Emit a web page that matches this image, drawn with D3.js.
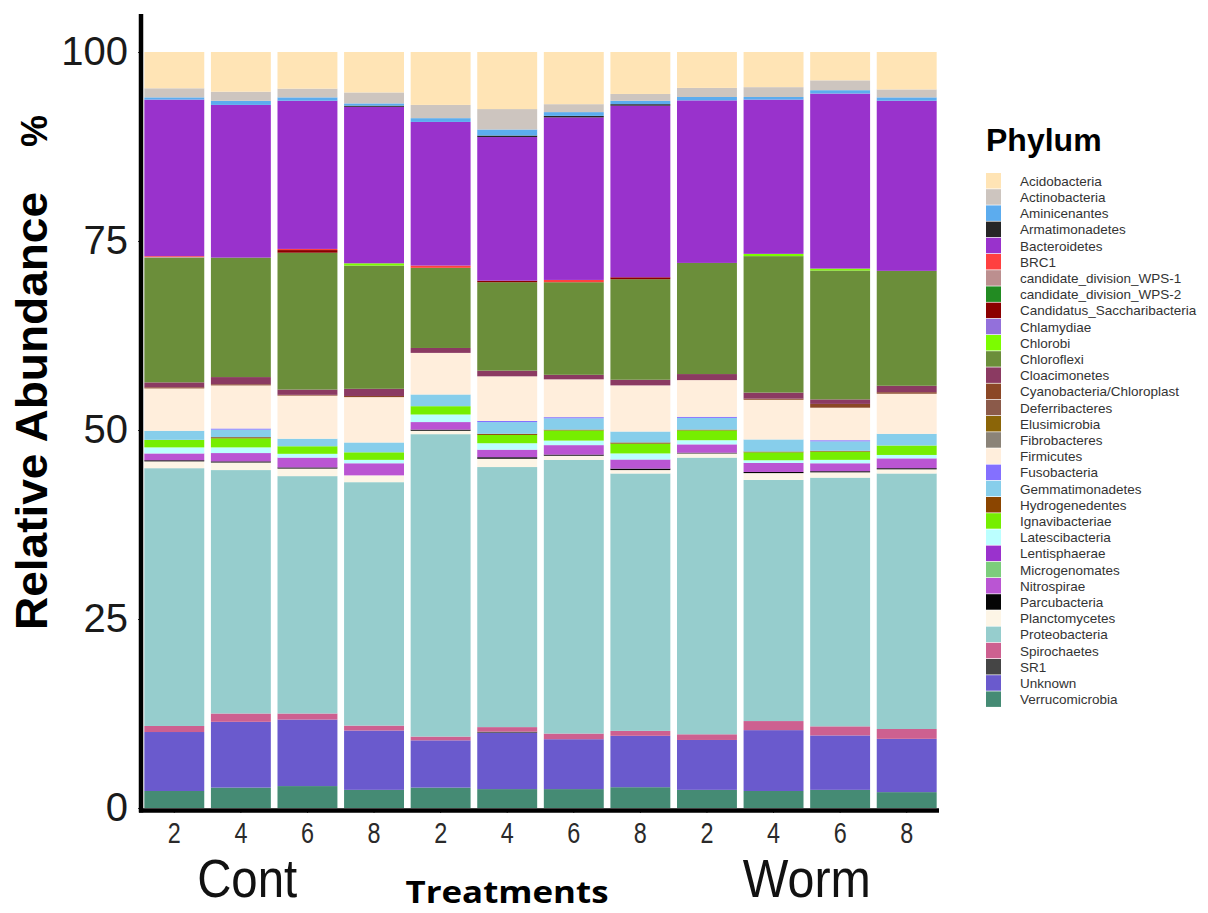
<!DOCTYPE html>
<html>
<head>
<meta charset="utf-8">
<script src="https://cdn.jsdelivr.net/npm/d3@7/dist/d3.min.js"></script>
<style>
  html, body { margin: 0; padding: 0; background: #ffffff; }
  svg { display: block; font-family: "Liberation Sans", Arial, sans-serif; }
</style>
</head>
<body>
<script>
// Samples along the x axis (three treatment blocks, sampled on days 2, 4, 6, 8)
const sampleIds = ["Cont_2", "Cont_4", "Cont_6", "Cont_8",
                   "Trt_2", "Trt_4", "Trt_6", "Trt_8",
                   "Worm_2", "Worm_4", "Worm_6", "Worm_8"];
const dayLabels = ["2", "4", "6", "8", "2", "4", "6", "8", "2", "4", "6", "8"];
const groupLabels = [
  { text: "Cont", first: "Cont_2", last: "Cont_8", shift: -27, width: 100 },
  { text: "Worm", first: "Worm_2", last: "Worm_8", shift: 0, width: 128 }
];
const yTicks = [0, 25, 50, 75, 100];

// Phyla in legend order (top of each stacked bar first)
const phyla = ["Acidobacteria", "Actinobacteria", "Aminicenantes", "Armatimonadetes",
  "Bacteroidetes", "BRC1", "candidate_division_WPS-1", "candidate_division_WPS-2",
  "Candidatus_Saccharibacteria", "Chlamydiae", "Chlorobi", "Chloroflexi", "Cloacimonetes",
  "Cyanobacteria/Chloroplast", "Deferribacteres", "Elusimicrobia", "Fibrobacteres",
  "Firmicutes", "Fusobacteria", "Gemmatimonadetes", "Hydrogenedentes", "Ignavibacteriae",
  "Latescibacteria", "Lentisphaerae", "Microgenomates", "Nitrospirae", "Parcubacteria",
  "Planctomycetes", "Proteobacteria", "Spirochaetes", "SR1", "Unknown", "Verrucomicrobia"];

const phylumColors = ["#FFE4B5", "#CDC5BF", "#5CACEE", "#262626",
  "#9932CC", "#FF4040", "#BC8F8F", "#228B22",
  "#8B0000", "#9370DB", "#7CFC00", "#6B8E3A", "#8B3A62",
  "#8B4726", "#8B5A4A", "#8B6508", "#8B8378",
  "#FFEEDC", "#8470FF", "#87CEEB", "#8B4500", "#76EE00",
  "#BBFFFF", "#9A32CD", "#7CCD7C", "#BA55D3", "#050505",
  "#FDF5E6", "#96CDCD", "#CD6090", "#454545", "#6A5ACD", "#458B74"];

// Relative abundance (%) per sample, one array per phylum
const acidobacteria      = [4.8, 5.25, 4.85, 5.35, 7.0, 7.55, 6.9, 5.55, 4.75, 4.65, 3.75, 4.95];
const actinobacteria     = [1.2, 1.2, 1.15, 1.45, 1.75, 2.7, 1.05, 0.9, 1.2, 1.3, 1.3, 1.05];
const aminicenantes      = [0.3, 0.55, 0.45, 0.3, 0.5, 0.8, 0.5, 0.45, 0.45, 0.35, 0.45, 0.45];
const armatimonadetes    = [0, 0, 0, 0.15, 0, 0.2, 0.2, 0.2, 0, 0, 0, 0];
const bacteroidetes      = [20.7, 20.2, 19.6, 20.7, 19.0, 19.0, 21.5, 22.7, 21.5, 20.4, 23.15, 22.5];
const brc1               = [0.1, 0, 0.15, 0, 0.3, 0, 0.3, 0, 0, 0, 0, 0];
const wps1               = [0.1, 0, 0, 0, 0, 0, 0, 0, 0, 0, 0, 0];
const wps2               = [0, 0, 0, 0, 0, 0, 0, 0, 0, 0, 0, 0];
const saccharibacteria   = [0, 0, 0.35, 0, 0, 0.2, 0, 0.25, 0, 0, 0, 0];
const chlamydiae         = [0, 0, 0, 0, 0, 0, 0, 0, 0, 0, 0, 0];
const chlorobi           = [0, 0, 0, 0.3, 0, 0, 0, 0, 0, 0.3, 0.25, 0];
const chloroflexi        = [16.5, 15.8, 18.1, 16.3, 10.6, 11.7, 12.25, 13.3, 14.7, 18.05, 17.05, 15.2];
const cloacimonetes      = [0.65, 0.95, 0.7, 0.95, 0.65, 0.75, 0.6, 0.75, 0.8, 0.8, 0.6, 0.85];
const cyanobacteria      = [0.15, 0.15, 0.1, 0.15, 0, 0, 0, 0, 0, 0.15, 0.5, 0.2];
const deferribacteres    = [0, 0, 0, 0, 0, 0, 0, 0, 0, 0, 0, 0];
const elusimicrobia      = [0, 0, 0, 0, 0, 0, 0, 0, 0, 0, 0, 0];
const fibrobacteres      = [0, 0, 0, 0, 0, 0, 0, 0, 0, 0, 0, 0];
const firmicutes         = [5.6, 5.7, 5.7, 6.0, 5.5, 5.9, 5.0, 6.1, 4.85, 5.25, 4.3, 5.3];
const fusobacteria       = [0, 0.15, 0, 0, 0, 0.15, 0.15, 0, 0.15, 0, 0.15, 0];
const gemmatimonadetes   = [1.2, 1.0, 1.0, 1.3, 1.55, 1.55, 1.5, 1.45, 1.55, 1.6, 1.25, 1.55];
const hydrogenedentes    = [0, 0.15, 0, 0, 0, 0.15, 0.1, 0.15, 0.1, 0.1, 0.1, 0];
const ignavibacteriae    = [1.0, 1.2, 1.0, 1.0, 1.1, 1.1, 1.35, 1.3, 1.3, 1.05, 1.1, 1.25];
const latescibacteria    = [0.8, 0.75, 0.5, 0.45, 1.0, 0.85, 0.6, 0.8, 0.55, 0.35, 0.45, 0.45];
const lentisphaerae      = [0, 0, 0, 0, 0, 0, 0, 0, 0, 0, 0, 0];
const microgenomates     = [0, 0, 0, 0, 0, 0, 0, 0, 0, 0, 0, 0];
const nitrospirae        = [0.9, 1.1, 1.3, 1.6, 1.0, 1.0, 1.25, 1.2, 1.1, 1.2, 1.05, 1.3];
const parcubacteria      = [0.15, 0.15, 0.15, 0, 0.15, 0.2, 0.15, 0.2, 0.1, 0.15, 0.15, 0.15];
const planctomycetes     = [0.9, 1.0, 1.0, 0.9, 0.45, 1.1, 0.55, 0.45, 0.55, 0.9, 0.7, 0.55];
const proteobacteria     = [34.1, 32.2, 31.4, 32.2, 40.0, 34.4, 36.2, 34.05, 36.6, 31.9, 32.9, 33.8];
const spirochaetes       = [0.8, 1.1, 0.8, 0.65, 0.5, 0.6, 0.75, 0.65, 0.75, 1.2, 1.2, 1.3];
const sr1                = [0, 0, 0, 0, 0, 0.15, 0, 0, 0, 0, 0, 0];
const unknown            = [7.8, 8.7, 8.8, 7.85, 6.25, 7.45, 6.6, 6.8, 6.6, 8.05, 7.2, 7.05];
const verrucomicrobia    = [2.25, 2.7, 2.9, 2.4, 2.7, 2.5, 2.5, 2.75, 2.4, 2.25, 2.4, 2.1];

const phylumValues = [acidobacteria, actinobacteria, aminicenantes, armatimonadetes,
  bacteroidetes, brc1, wps1, wps2, saccharibacteria, chlamydiae, chlorobi, chloroflexi,
  cloacimonetes, cyanobacteria, deferribacteres, elusimicrobia, fibrobacteres, firmicutes,
  fusobacteria, gemmatimonadetes, hydrogenedentes, ignavibacteriae, latescibacteria,
  lentisphaerae, microgenomates, nitrospirae, parcubacteria, planctomycetes, proteobacteria,
  spirochaetes, sr1, unknown, verrucomicrobia];

// ---- layout ----
const W = 1208, H = 913;
const svg = d3.select("body").append("svg").attr("width", W).attr("height", H);

const y = d3.scaleLinear().domain([0, 100]).range([808, 52]);
const x = d3.scaleBand().domain(sampleIds).range([141, 940]).paddingInner(0.1).paddingOuter(0.05);
const color = d3.scaleOrdinal().domain(phyla).range(phylumColors);

// one row per sample, one column per phylum
const rows = sampleIds.map((id, i) => {
  const r = { id };
  phyla.forEach((p, j) => { r[p] = phylumValues[j][i]; });
  return r;
});

// stack from the bottom: last legend entry sits at the base of each bar
const stacked = d3.stack().keys(phyla.slice().reverse())(rows);

svg.append("g").selectAll("g")
  .data(stacked)
  .join("g")
  .attr("fill", d => color(d.key))
  .selectAll("rect")
  .data(d => d.filter(s => s[1] - s[0] > 0))
  .join("rect")
  .attr("x", d => x(d.data.id))
  .attr("y", d => y(d[1]))
  .attr("width", x.bandwidth())
  .attr("height", d => y(d[0]) - y(d[1]));

// ---- axes ----
const yAxis = svg.append("g")
  .attr("transform", "translate(141,0)")
  .call(d3.axisLeft(y).tickValues(yTicks).tickSize(3).tickPadding(10));
yAxis.select(".domain").remove();
yAxis.selectAll("text")
  .attr("font-size", 40)
  .attr("font-family", "'Liberation Sans', Arial, sans-serif")
  .attr("fill", "#1a1a1a");
yAxis.selectAll("line").attr("stroke", "#333");

const xAxis = svg.append("g")
  .attr("transform", "translate(0,810)")
  .call(d3.axisBottom(x).tickFormat((d, i) => dayLabels[i]).tickSize(3).tickPadding(9));
xAxis.select(".domain").remove();
xAxis.selectAll("text")
  .attr("font-size", 29)
  .attr("font-family", "'Liberation Sans', Arial, sans-serif")
  .attr("fill", "#2a2a2a")
  .attr("textLength", 13)
  .attr("lengthAdjust", "spacingAndGlyphs");
xAxis.selectAll("line").attr("stroke", "#333");

// heavy axis lines
svg.append("line")
  .attr("x1", 141).attr("x2", 141).attr("y1", 14).attr("y2", 812.5)
  .attr("stroke", "#000").attr("stroke-width", 4.5);
svg.append("line")
  .attr("x1", 139).attr("x2", 939).attr("y1", 810.5).attr("y2", 810.5)
  .attr("stroke", "#000").attr("stroke-width", 4.5);

// ---- group and axis titles ----
groupLabels.forEach(g => {
  const cx = (x(g.first) + x(g.last) + x.bandwidth()) / 2;
  svg.append("text")
    .attr("x", cx + g.shift)
    .attr("y", 897)
    .attr("text-anchor", "middle")
    .attr("font-size", 54)
    .attr("fill", "#111")
    .attr("textLength", g.width)
    .attr("lengthAdjust", "spacingAndGlyphs")
    .text(g.text);
});

svg.append("text")
  .attr("x", 507).attr("y", 903)
  .attr("text-anchor", "middle")
  .attr("font-family", "'Open Sans', 'Noto Sans', sans-serif")
  .attr("font-weight", 700)
  .attr("font-size", 30)
  .attr("fill", "#000")
  .attr("textLength", 203)
  .attr("lengthAdjust", "spacingAndGlyphs")
  .text("Treatments");

svg.append("text")
  .attr("transform", "translate(47,411) rotate(-90)")
  .attr("text-anchor", "middle")
  .attr("font-weight", 700)
  .attr("font-size", 45)
  .attr("fill", "#000")
  .attr("textLength", 438)
  .attr("lengthAdjust", "spacingAndGlyphs")
  .text("Relative Abundance");

svg.append("text")
  .attr("transform", "translate(47,131) rotate(-90)")
  .attr("text-anchor", "middle")
  .attr("font-weight", 700)
  .attr("font-size", 36)
  .attr("fill", "#000")
  .text("%");

// ---- legend ----
const legend = svg.append("g");
legend.append("text")
  .attr("x", 986).attr("y", 150.5)
  .attr("font-weight", 700)
  .attr("font-size", 32)
  .attr("fill", "#000")
  .text("Phylum");

const item = legend.selectAll("g.item")
  .data(phyla)
  .join("g")
  .attr("class", "item")
  .attr("transform", (d, i) => `translate(986,${173 + i * 16.2})`);
item.append("rect")
  .attr("width", 15).attr("height", 15.5)
  .attr("fill", d => color(d));
item.append("text")
  .attr("x", 34).attr("y", 8)
  .attr("dy", "0.35em")
  .attr("font-size", 13.5)
  .attr("fill", "#333")
  .text(d => d);
</script>
</body>
</html>
